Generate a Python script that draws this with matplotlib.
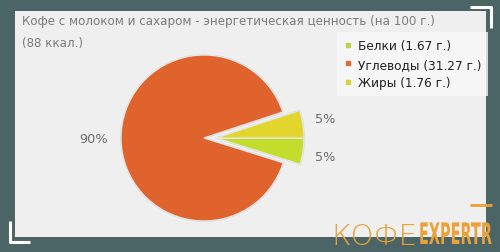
import matplotlib
matplotlib.use("Agg")
import matplotlib.pyplot as plt
from matplotlib.lines import Line2D
from matplotlib.patheffects import AbstractPathEffect
from matplotlib.transforms import Affine2D

# data
names = ["Белки", "Углеводы", "Жиры"]
grams = [1.67, 31.27, 1.76]
colors = ["#c3dd2c", "#e0622d", "#e2d52c"]
marker_colors = ["#b9d64e", "#d9703a", "#dcd13a"]
title = "Кофе с молоком и сахаром - энергетическая ценность (на 100 г.)"
subtitle = "(88 ккал.)"


class Stretch(AbstractPathEffect):
    """stretch text glyphs around (x0, y0) in display px - tall condensed logo look"""
    def __init__(self, sx, sy, x0, y0):
        super().__init__()
        self.sx, self.sy = sx, sy
        self.x0, self.y0 = x0, y0

    def draw_path(self, renderer, gc, tpath, affine, rgbFace=None):
        st = (Affine2D().translate(-self.x0, -self.y0)
              .scale(self.sx, self.sy).translate(self.x0, self.y0))
        renderer.draw_path(gc, tpath, affine + st, rgbFace)


W, H = 500, 253
fig = plt.figure(figsize=(W / 100, H / 100), dpi=100)
fig.patch.set_facecolor("#4b6465")

# background / decoration layer in pixel coords (y down)
bg = fig.add_axes([0, 0, 1, 1])
bg.set_xlim(0, W)
bg.set_ylim(H, 0)
bg.axis("off")
bg.add_patch(plt.Rectangle((15, 12), 471, 226, facecolor="#efefef", edgecolor="none"))
# white corner brackets
bg.plot([470, 491, 491], [8, 8, 29], color="white", lw=2.2, solid_capstyle="butt")
bg.plot([10, 10, 30], [222, 243, 243], color="white", lw=2.2, solid_capstyle="butt")
bg.text(22, 21, title, color="#7b7b7b", fontsize=8.6, va="center", ha="left")
bg.text(22, 43, subtitle, color="#7b7b7b", fontsize=8.6, va="center", ha="left")

# logo
bg.plot([470, 492], [206, 206], color="#e9a139", lw=2, solid_capstyle="butt")
bg.text(331, 245, "КОФЕ", color="#e9a139", fontsize=21, fontweight="light",
        va="baseline", ha="left", zorder=5)
bg.text(492, 245, "EXPERTR", color="#e9a139", fontsize=10.4, fontweight="bold",
        va="baseline", ha="right", zorder=5,
        path_effects=[Stretch(1.0, 2.05, 492, H - 245)])

# pie layer in pixel coords (y up)
ax = fig.add_axes([0, 0, 1, 1])
ax.patch.set_alpha(0)
cx, cy, r = 204, H - 139, 83
wedges, texts, autotexts = ax.pie(
    grams, colors=colors, startangle=0, counterclock=False,
    center=(cx, cy), radius=r, explode=[12, 0, 12],
    autopct=lambda p: f"{p:.0f}%", pctdistance=1.33,
    wedgeprops=dict(edgecolor="#e6e6e6", linewidth=1),
    shadow=dict(ox=0.06, oy=-0.06, facecolor="#b5b5b5", edgecolor="#b5b5b5", alpha=0.6),
    textprops=dict(color="#6b6b6b", fontsize=9.3),
)
# move the pulled-out slices straight to the right like the original
for i in (0, 2):
    wedges[i].set_center((cx + 12, cy))
    wedges[i].set_radius(r + 5)
ax.set_xlim(0, W)
ax.set_ylim(0, H)
ax.set_aspect("equal")
ax.axis("off")

handles = [Line2D([], [], marker="s", ls="", color=c, markersize=3.5) for c in marker_colors]
labels = [f"{n} ({g} г.)" for n, g in zip(names, grams)]
leg = ax.legend(handles, labels, loc="upper left", bbox_to_anchor=(337 / W, 1 - 33 / H),
                bbox_transform=fig.transFigure, fontsize=8.7, frameon=True, fancybox=False,
                handlelength=0.6, handletextpad=0.5, labelspacing=0.45,
                borderpad=0.6, borderaxespad=0)
leg.get_frame().set_facecolor("#f8f8f8")
leg.get_frame().set_edgecolor("none")
for t in leg.get_texts():
    t.set_color("#222222")

fig.savefig("out.png", dpi=100, facecolor=fig.get_facecolor())
